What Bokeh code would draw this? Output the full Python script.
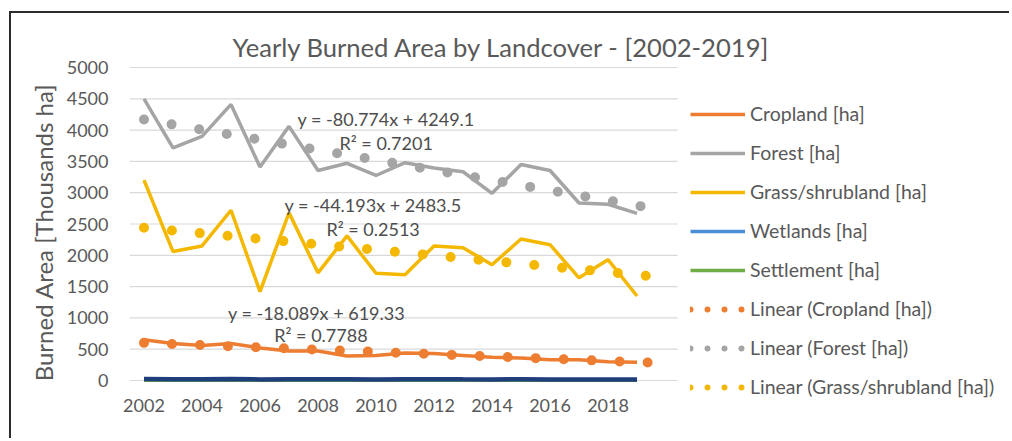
from bokeh.plotting import figure
from bokeh.models import Label, Legend, LegendItem, FixedTicker, Range1d
from bokeh.embed import file_html
from bokeh.resources import INLINE

# ---------------- data ----------------
years = list(range(2002, 2020))
cropland = [650, 590, 560, 590, 520, 470, 470, 390, 400, 440, 430, 400, 370, 360, 330, 330, 300, 290]
forest = [4500, 3716, 3900, 4410, 3410, 4060, 3355, 3470, 3275, 3480, 3395, 3335, 2990, 3450, 3355, 2835, 2815, 2670]
grass = [3200, 2060, 2150, 2720, 1420, 2680, 1720, 2310, 1714, 1690, 2150, 2120, 1850, 2260, 2170, 1640, 1930, 1350]
wetlands = [24, 22, 20, 23, 18, 20, 19, 21, 18, 20, 21, 19, 18, 20, 17, 18, 16, 15]
settlement = [5, 5, 4, 5, 4, 4, 4, 5, 4, 4, 4, 4, 3, 4, 3, 3, 3, 3]

series_names = ["Cropland [ha]", "Forest [ha]", "Grass/shrubland [ha]", "Wetlands [ha]", "Settlement [ha]"]

# Excel linear trendlines (x = 1 for 2002, forecast forward to 2020 -> x = 19)
trend_names = ["Linear (Cropland [ha])", "Linear (Forest [ha])", "Linear (Grass/shrubland [ha])"]
trend_slope = [-18.089, -80.774, -44.193]
trend_intercept = [619.33, 4249.1, 2483.5]
trend_r2 = [0.7788, 0.7201, 0.2513]
trend_index = [1, 19]
trend_years = [2002, 2020]

x_ticks = list(range(2002, 2019, 2))
y_ticks = list(range(0, 5001, 500))
cat_start, cat_end = 2001.5, 2020.4   # category axis extent (incl. forecast year)

# ---------------- style ----------------
C_CROP = "#ED7D31"
C_FOREST = "#A5A5A5"
C_GRASS = "#F4B800"
C_WET_LINE = "#1F3E7C"
C_WET_LEG = "#4A8FD6"
C_SETTLE = "#70AD47"
TXT = "#595959"
FONT = "Lato"

p = figure(width=1000, height=427, output_backend="svg", toolbar_location=None,
           x_range=Range1d(cat_start, 2031.74), y_range=Range1d(-287.5, 5016),
           min_border_left=118, min_border_right=5, min_border_top=53, min_border_bottom=42)
p.styles = {"border-top": "2px solid #2b2b2b", "border-left": "2px solid #2b2b2b",
            "margin-top": "11px", "margin-left": "9px"}

p.title.text = "Yearly Burned Area by Landcover - [2002-2019]"
p.title.align = "left"
p.title.offset = 103
p.title.standoff = 9
p.title.text_font = FONT
p.title.text_font_size = "25.6px"
p.title.text_font_style = "normal"
p.title.text_color = TXT

p.outline_line_color = None
p.background_fill_color = "white"
p.border_fill_color = "white"

p.xgrid.grid_line_color = None
p.ygrid.grid_line_color = None
# horizontal gridlines only across the category extent
p.segment(x0=[cat_start] * len(y_ticks), x1=[cat_end] * len(y_ticks), y0=y_ticks, y1=y_ticks,
          line_color="#D9D9D9", line_width=1.2)

p.yaxis.ticker = FixedTicker(ticks=y_ticks)
p.xaxis.ticker = FixedTicker(ticks=x_ticks)
for ax in (p.xaxis[0], p.yaxis[0]):
    ax.axis_line_color = None
    ax.major_tick_line_color = None
    ax.minor_tick_line_color = None
    ax.major_tick_out = 0
    ax.major_tick_in = 0
    ax.major_label_text_font = FONT
    ax.major_label_text_font_size = "18px"
    ax.major_label_text_color = TXT
p.yaxis.major_label_standoff = 21
p.xaxis.major_label_standoff = 0
p.yaxis.axis_label = "Burned Area [Thousands ha]"
p.yaxis.axis_label_text_font = FONT
p.yaxis.axis_label_text_font_size = "24px"
p.yaxis.axis_label_text_font_style = "normal"
p.yaxis.axis_label_text_color = TXT
p.yaxis.axis_label_standoff = 6

# ---------------- data lines ----------------
r_crop = p.line(years, cropland, line_color=C_CROP, line_width=3.5)
r_forest = p.line(years, forest, line_color=C_FOREST, line_width=3.5)
r_grass = p.line(years, grass, line_color=C_GRASS, line_width=3.5)
r_settle = p.line(years, settlement, line_color=C_SETTLE, line_width=3.5)
r_wet = p.line(years, wetlands, line_color=C_WET_LINE, line_width=4.5)

# ---------------- trendlines ----------------
trend_colors = [C_CROP, C_FOREST, C_GRASS]
for s, b, c in zip(trend_slope, trend_intercept, trend_colors):
    ty = [b + s * i for i in trend_index]
    p.line(trend_years, ty, line_color=c, line_width=10, line_dash="0 28", line_cap="round")

# equation labels (placement in data units)
eq_pos = [(2007.95, 1086, 2008.1, 719), (2010.35, 4184, 2010.35, 3801), (2009.9, 2811, 2009.9, 2427)]
for s, b, r2, (ex, ey, rx, ry) in zip(trend_slope, trend_intercept, trend_r2, eq_pos):
    eq = "y = %gx + %g" % (s, b)
    p.add_layout(Label(x=ex, y=ey, text=eq, text_align="center", text_baseline="middle",
                       text_font=FONT, text_font_size="18px", text_color="#4d4d4d"))
    p.add_layout(Label(x=rx, y=ry, text="R\u00b2 = %g" % r2, text_align="center", text_baseline="middle",
                       text_font=FONT, text_font_size="18px", text_color="#4d4d4d"))

# ---------------- legend ----------------
nan = float("nan")
leg_wet = p.line([years[0]], [nan], line_color=C_WET_LEG, line_width=3.5)
leg_trends = [p.line([years[0]], [nan], line_color=c, line_width=6, line_dash="0 17", line_cap="round")
              for c in trend_colors]

items = [LegendItem(label=series_names[0], renderers=[r_crop]),
         LegendItem(label=series_names[1], renderers=[r_forest]),
         LegendItem(label=series_names[2], renderers=[r_grass]),
         LegendItem(label=series_names[3], renderers=[leg_wet]),
         LegendItem(label=series_names[4], renderers=[r_settle])]
items += [LegendItem(label=n, renderers=[r]) for n, r in zip(trend_names, leg_trends)]

legend = Legend(items=items, location=(561, 0), orientation="vertical",
                glyph_width=55, glyph_height=20, label_height=20, label_standoff=5,
                spacing=16, padding=0, margin=0,
                label_text_font=FONT, label_text_font_size="19.5px", label_text_color=TXT,
                border_line_color=None, background_fill_alpha=0)
p.add_layout(legend)

open("out.html", "w").write(file_html(p, INLINE))
